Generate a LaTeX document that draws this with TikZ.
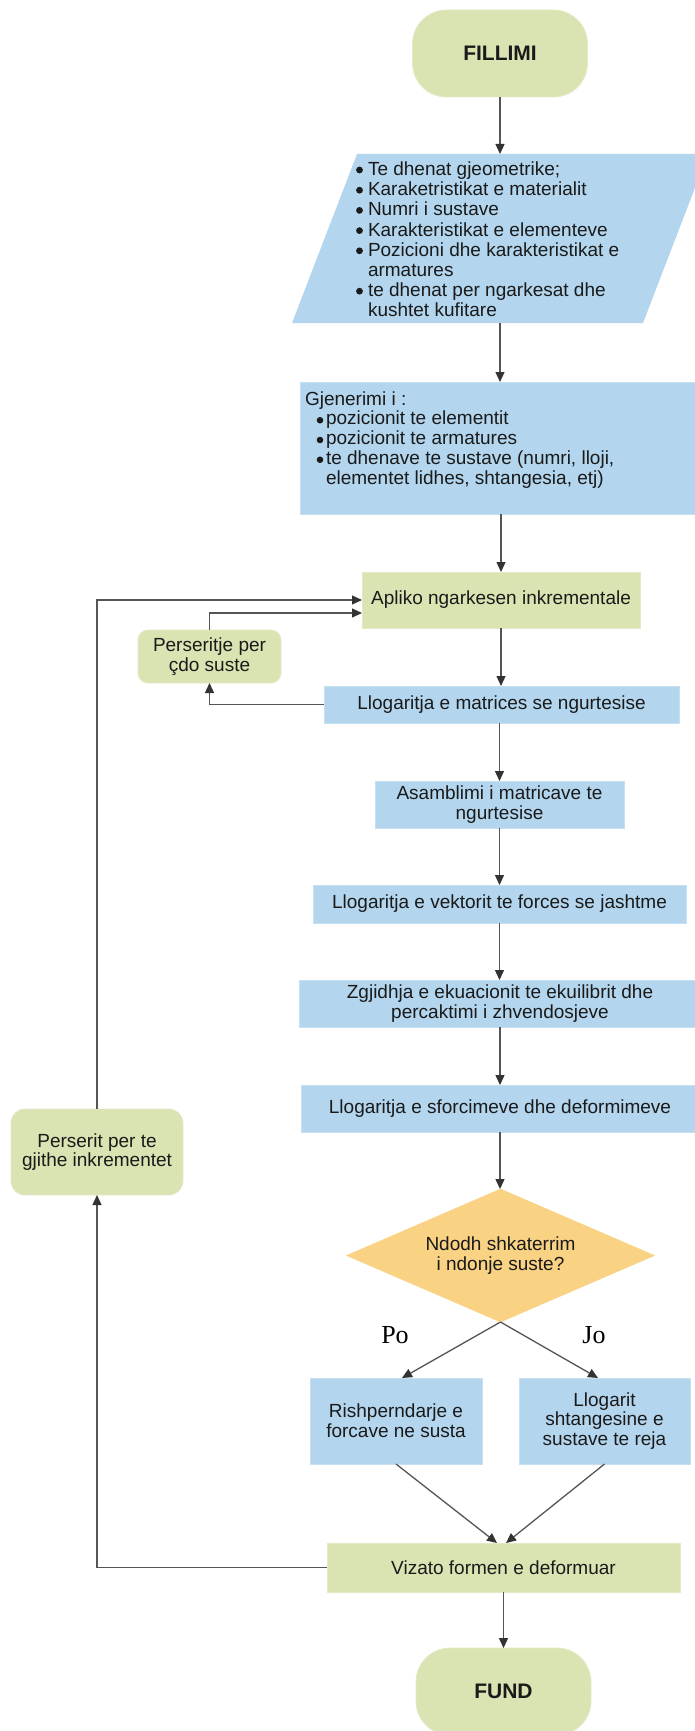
\documentclass[tikz,border=0pt]{standalone}
\usepackage{fontspec}
\setmainfont{Liberation Sans}
\newfontfamily\labelserif{Liberation Serif}
\usetikzlibrary{arrows.meta,shapes.geometric,calc}

\definecolor{boxgreen}{HTML}{DAE4B2}
\definecolor{boxgreenedge}{HTML}{E3EAC6}
\definecolor{boxblue}{HTML}{B3D6EE}
\definecolor{boxblueedge}{HTML}{C6E0F2}
\definecolor{decorange}{HTML}{F9D284}
\definecolor{linegray}{HTML}{555555}
\definecolor{arrowdark}{HTML}{333333}
\definecolor{txt}{HTML}{1A1A1A}

\begin{document}
\begin{tikzpicture}[x=1pt,y=-1pt,
  every node/.style={inner sep=0pt, outer sep=0pt, text=txt},
  txtfont/.style={font=\fontsize{19}{19.75}\selectfont},
  bluebox/.style={rectangle, fill=boxblue, draw=boxblueedge, line width=0.8pt, align=center, txtfont},
  greenbox/.style={rectangle, fill=boxgreen, draw=boxgreenedge, line width=0.8pt, align=center, txtfont},
  terminal/.style={greenbox, rounded corners=34pt, minimum width=175pt, minimum height=87pt,
                   font=\bfseries\fontsize{21}{24}\selectfont},
  decision/.style={diamond, aspect=2.33, fill=decorange, draw=decorange, align=center, txtfont},
  flow/.style={draw=linegray, line width=1.3pt, -{Triangle[length=10pt,width=9pt,color=arrowdark]}},
  bulletdot/.style={fill=txt},
  branchlabel/.style={font=\labelserif\fontsize{26}{26}\selectfont, text=black}
]
\useasboundingbox (0,0) rectangle (695,1731);
\fill[white] (0,0) rectangle (695,1731);
\clip (0,0) rectangle (695,1731);

% start
\node[terminal] (start) at (500,53.5) {FILLIMI};

% input data (parallelogram)
\fill[boxblue] (357,154) -- (708,154) -- (643,323) -- (292,323) -- cycle;
\node[minimum width=351pt, minimum height=169pt] (data) at (500,238.5) {};
\node[anchor=north west, align=left, font=\fontsize{19}{20.2}\selectfont] (datatext) at (368,160.5)
  {\rule{0pt}{15pt}Te dhenat gjeometrike;\\
   Karaketristikat e materialit\\
   Numri i sustave\\
   Karakteristikat e elementeve\\
   Pozicioni dhe karakteristikat e\\
   armatures\\
   te dhenat per ngarkesat dhe\\
   kushtet kufitare};
\foreach \b in {175.5,195.7,215.9,236.1,256.3,296.7}
  \fill[bulletdot] (359.5,\b-5.5) circle (3.4pt);

% generation step
\node[bluebox, minimum width=410pt, minimum height=132pt] (gen) at (505,448) {};
\node[anchor=north west, align=left, txtfont] (gentext) at (305,390)
  {\rule{0pt}{15pt}Gjenerimi i :\\
   \hspace*{21pt}pozicionit te elementit\\
   \hspace*{21pt}pozicionit te armatures\\
   \hspace*{21pt}te dhenave te sustave (numri, lloji,\\
   \hspace*{21pt}elementet lidhes, shtangesia, etj)};
\foreach \b in {425.75,445.5,465.25}
  \fill[bulletdot] (320,\b-5.5) circle (3.3pt);

% main loop
\node[greenbox, minimum width=278pt, minimum height=56pt] (apply) at (501,600) {Apliko ngarkesen inkrementale};
\node[greenbox, rounded corners=10pt, minimum width=143pt, minimum height=53pt] (persone) at (209.5,656.5) {Perseritje per\\çdo suste};
\node[bluebox, minimum width=355pt, minimum height=37pt] (stiff) at (501.5,704.5) {Llogaritja e matrices se ngurtesise};
\node[bluebox, minimum width=249pt, minimum height=47pt] (assem) at (499.5,804.5) {Asamblimi i matricave te\\ngurtesise};
\node[bluebox, minimum width=373pt, minimum height=38pt] (force) at (499.5,904) {Llogaritja e vektorit te forces se jashtme};
\node[bluebox, minimum width=402pt, minimum height=47pt] (solve) at (500,1003.5) {Zgjidhja e ekuacionit te ekuilibrit dhe\\percaktimi i zhvendosjeve};
\node[bluebox, minimum width=398pt, minimum height=47pt] (stress) at (500,1108.5) {Llogaritja e sforcimeve dhe deformimeve};
\node[decision, minimum width=308pt, minimum height=133pt] (crack) at (500.5,1255.5) {Ndodh shkaterrim\\i ndonje suste?};
\node[bluebox, minimum width=172pt, minimum height=86pt] (redis) at (396,1421) {Rishperndarje e\\forcave ne susta};
\node[bluebox, minimum width=171pt, minimum height=86pt] (newk) at (604.5,1421) {Llogarit\\shtangesine e\\sustave te reja};
\node[greenbox, minimum width=353pt, minimum height=49pt] (plot) at (503.5,1567.5) {Vizato formen e deformuar};
\node[terminal] (finish) at (503.5,1691.5) {FUND};
\node[greenbox, rounded corners=14pt, minimum width=172pt, minimum height=86pt] (persall) at (97,1152) {Perserit per te\\gjithe inkrementet};

% branch labels
\node[branchlabel] (po) at (395,1335) {Po};
\node[branchlabel] (jo) at (594,1335) {Jo};

% connectors
\draw[flow] (start.south) -- (data.north);
\draw[flow] (data.south) -- (data.south |- gen.north);
\draw[flow] (apply.north |- gen.south) -- (apply.north);
\draw[flow] (apply.south) -- (apply.south |- stiff.north);
\draw[flow] (stiff.west) -| (persone.south);
\draw[flow] (persone.north) |- ($(apply.west)+(0,13)$);
\draw[flow] (assem.north |- stiff.south) -- (assem.north);
\draw[flow] (assem.south) -- (assem.south |- force.north);
\draw[flow] (force.south) -- (force.south |- solve.north);
\draw[flow] (solve.south) -- (stress.north);
\draw[flow] (stress.south) -- (stress.south |- crack.north);
\draw[flow] (crack.south) -- ($(redis.north)+(6,0)$);
\draw[flow] (crack.south) -- ($(newk.north)+(-6.5,0)$);
\draw[flow] (redis.south) -- ($(plot.north)+(-6.5,0)$);
\draw[flow] (newk.south) -- ($(plot.north)+(2.5,0)$);
\draw[flow] (plot.south) -- (finish.north);
\draw[flow] (plot.west) -| (persall.south);
\draw[flow] (persall.north) |- (apply.west);
\end{tikzpicture}
\end{document}
